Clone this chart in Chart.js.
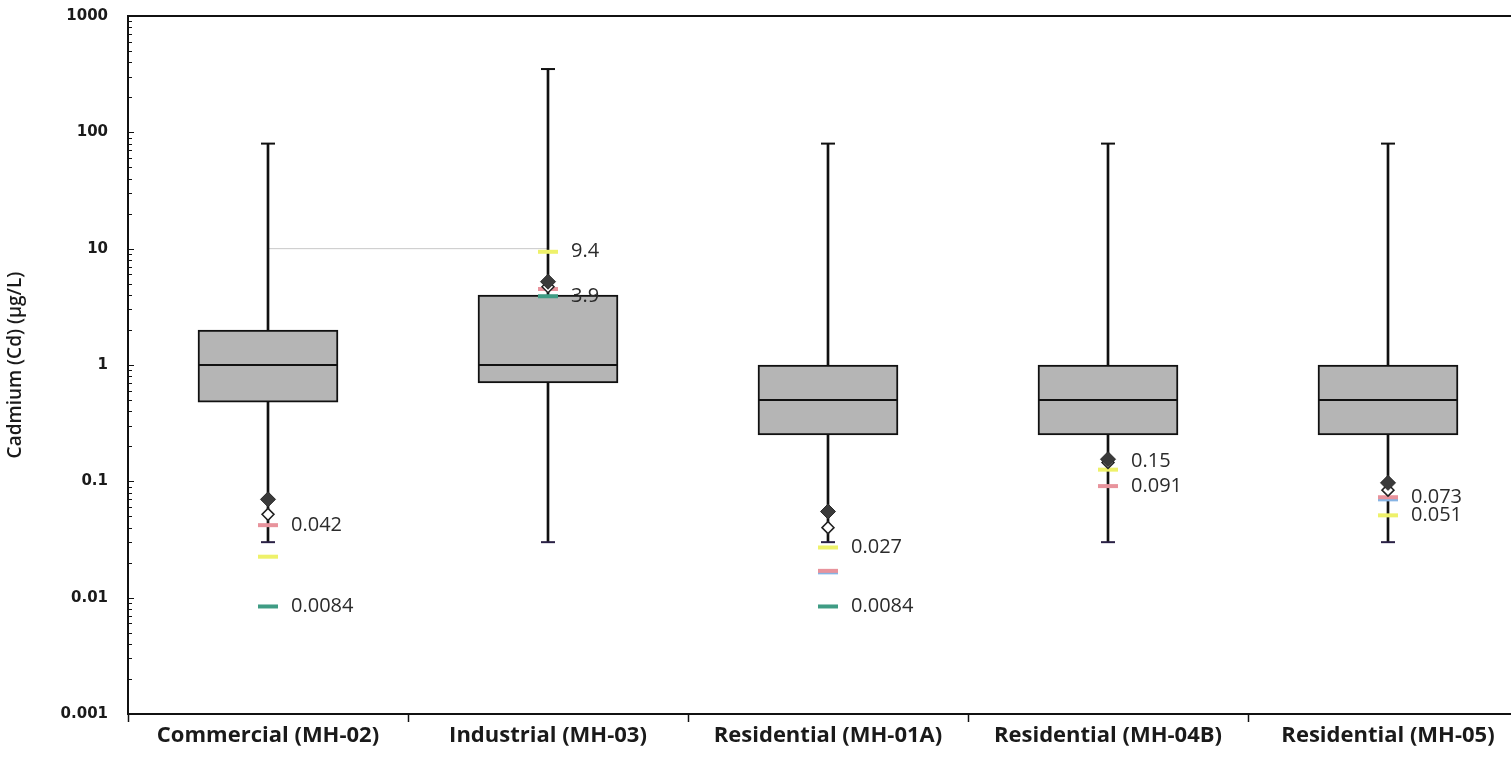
<!DOCTYPE html>
<html>
<head>
<meta charset="utf-8">
<script src="https://cdn.jsdelivr.net/npm/chart.js"></script>
<style>
  html, body { margin: 0; padding: 0; background: #fff; overflow: hidden; }
  canvas { display: block; }
</style>
</head>
<body>
<canvas id="boxChart" width="1540" height="764"></canvas>
<script>
// --- Data ---
const categories = ['Commercial (MH-02)', 'Industrial (MH-03)', 'Residential (MH-01A)', 'Residential (MH-04B)', 'Residential (MH-05)'];
const whiskerLow = [0.03, 0.03, 0.03, 0.03, 0.03];
const whiskerHigh = [80, 350, 80, 80, 80];
const q1 = [0.48, 0.7, 0.25, 0.25, 0.25];
const q3 = [2, 4, 1, 1, 1];
const median = [1, 1, 0.5, 0.5, 0.5];
const meanFilled = [0.07, 5.2, 0.055, 0.155, 0.097];
const meanOpen = [0.052, 4.7, 0.04, 0.145, 0.084];
const pinkMark = [0.042, 4.5, 0.017, 0.091, 0.073];
const yellowMark = [0.0225, 9.4, 0.027, 0.126, 0.051];
const greenMark = [0.0084, 3.9, 0.0084, null, null];
const blueMark = [null, null, 0.0165, null, 0.07];
const guideLine = [10, 10, null, null, null];
const valueLabels = [[0.042, 0.0084], [9.4, 3.9], [0.027, 0.0084], [0.15, 0.091], [0.073, 0.051]];
const yTicks = [0.001, 0.01, 0.1, 1, 10, 100, 1000];

// --- Plugin: top border, inner log ticks and value labels ---
const boxExtras = {
    id: 'boxExtras',
    afterDraw(chart) {
        const { ctx, chartArea: { left, right, top, bottom }, scales: { x, y } } = chart;
        ctx.save();
        ctx.strokeStyle = '#111';
        ctx.lineWidth = 2;
        ctx.beginPath();
        ctx.moveTo(left, top);
        ctx.lineTo(right, top);
        ctx.stroke();

        // minor / major ticks on the inside of the y axis
        ctx.lineWidth = 1;
        for (let d = -3; d < 3; d++) {
            for (let k = 1; k <= 9; k++) {
                const py = Math.round(y.getPixelForValue(k * Math.pow(10, d))) + 0.5;
                ctx.beginPath();
                ctx.moveTo(left, py);
                ctx.lineTo(left + (k === 1 ? 6 : 4), py);
                ctx.stroke();
            }
        }

        ctx.fillStyle = '#2b2b2b';
        ctx.font = '20px "Open Sans"';
        ctx.textBaseline = 'middle';
        ctx.textAlign = 'left';
        valueLabels.forEach((vals, i) => {
            const px = x.getPixelForValue(i) + 23;
            vals.forEach(v => ctx.fillText(String(v), px, y.getPixelForValue(v)));
        });
        ctx.restore();
    }
};

const dash = (data, color, order) => ({
    type: 'line', data, showLine: false, pointStyle: 'line', pointRadius: 10,
    pointBorderWidth: 4, pointBorderColor: color, borderColor: color, order
});

new Chart(document.getElementById('boxChart'), {
    type: 'bar',
    data: {
        labels: categories,
        datasets: [
            {
                type: 'line', data: guideLine, borderColor: '#c8c8c8', borderWidth: 1,
                pointRadius: 0, order: 9
            },
            {
                data: whiskerLow.map((v, i) => [v, whiskerHigh[i]]),
                backgroundColor: '#111', barThickness: 2, grouped: false, order: 8
            },
            {
                data: q1.map((v, i) => [v, q3[i]]),
                backgroundColor: '#b5b5b5', borderColor: '#111', borderWidth: 2,
                borderSkipped: false, barThickness: 140, grouped: false, order: 7
            },
            {
                type: 'line', data: median, showLine: false, pointStyle: 'line',
                pointRadius: 70, pointBorderWidth: 2, pointBorderColor: '#111', order: 6
            },
            {
                type: 'line', data: whiskerHigh, showLine: false, pointStyle: 'line',
                pointRadius: 7, pointBorderWidth: 2, pointBorderColor: '#111', order: 6
            },
            {
                type: 'line', data: whiskerLow, showLine: false, pointStyle: 'line',
                pointRadius: 7, pointBorderWidth: 2, pointBorderColor: '#2a2145', order: 6
            },
            dash(greenMark, '#3f9c84', 5),
            dash(blueMark, '#86b4e4', 5),
            dash(yellowMark, '#eef16a', 4),
            dash(pinkMark, '#e8939c', 3),
            {
                type: 'line', data: meanOpen, showLine: false, pointStyle: 'rectRot',
                pointRadius: 6, pointBackgroundColor: '#fff', pointBorderColor: '#222',
                pointBorderWidth: 1.5, order: 2
            },
            {
                type: 'line', data: meanFilled, showLine: false, pointStyle: 'rectRot',
                pointRadius: 7.5, pointBackgroundColor: '#3a3a3a', pointBorderColor: '#2a2a2a',
                pointBorderWidth: 1, order: 1
            }
        ]
    },
    options: {
        responsive: false,
        animation: false,
        layout: { autoPadding: false, padding: { top: 16, right: 12, left: 0, bottom: 0 } },
        plugins: { legend: { display: false }, tooltip: { enabled: false } },
        scales: {
            x: {
                offset: true,
                border: { color: '#111', width: 2 },
                grid: { drawOnChartArea: false, offset: true, color: '#111', tickLength: 8, tickWidth: 1.5 },
                ticks: {
                    color: '#1a1a1a', padding: 1,
                    font: { family: 'Open Sans', size: 22, weight: 'bold' }
                },
                afterFit(scale) { scale.height = 50; }
            },
            y: {
                type: 'logarithmic',
                min: 0.001,
                max: 1000,
                border: { color: '#111', width: 2 },
                grid: { display: false },
                afterBuildTicks(scale) { scale.ticks = yTicks.map(v => ({ value: v })); },
                ticks: {
                    color: '#1a1a1a', padding: 12,
                    font: { family: 'DejaVu Sans', size: 15, weight: 'bold' },
                    callback: (v) => String(v)
                },
                title: {
                    display: true, text: 'Cadmium (Cd) (µg/L)', color: '#1a1a1a',
                    font: { family: 'Open Sans', size: 19, weight: '600' }, padding: { top: 4, bottom: 0 }
                },
                afterFit(scale) {
                    scale.width = 128;
                    scale.paddingTop = 0;
                    scale.paddingBottom = 0;
                }
            }
        }
    },
    plugins: [boxExtras]
});
</script>
</body>
</html>
